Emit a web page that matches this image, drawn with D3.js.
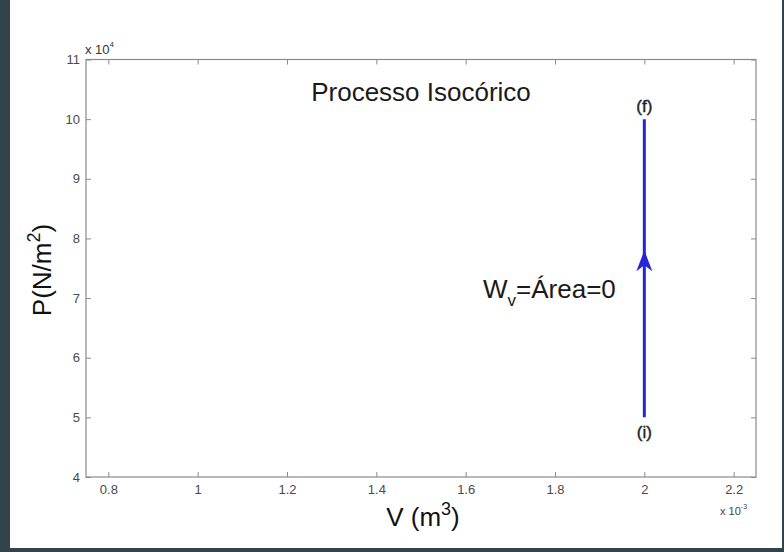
<!DOCTYPE html>
<html>
<head>
<meta charset="utf-8">
<script src="https://cdn.jsdelivr.net/npm/d3@7"></script>
<style>
  body { margin:0; background:#ffffff; }
  svg text { font-family: "Liberation Sans", Arial, sans-serif; }
  .axis path { display:none; }
  .axis line { stroke:#8a8a8a; }
  .axis text { fill:#4a4a4a; font-size:13px; }
</style>
</head>
<body>
<div id="container"></div>
<script>
// Data ---------- ---------- ----------
let xTicks = [0.8, 1, 1.2, 1.4, 1.6, 1.8, 2, 2.2];        // V (x10^-3 m^3)
let yTicks = [4, 5, 6, 7, 8, 9, 10, 11];                 // P (x10^4 N/m^2)
let volume = [2, 2];
let pressure = [5, 10];
let pointLabels = ["(i)", "(f)"];
let arrowAt = 7.8;
let title = "Processo Isocórico";

// Layout ---------- ---------- ----------
let W = 784, H = 552;
let pLeft = 86, pRight = 756, pTop = 59.5, pBottom = 477;
let blue = "#2626d6", dark = "#33434e";

let svg = d3.select("#container").append("svg").attr("width", W).attr("height", H);
svg.append("rect").attr("width", W).attr("height", H).attr("fill", "#fff");
// dark frame of the screenshot
svg.append("rect").attr("x", 0).attr("y", 0).attr("width", 10).attr("height", H).attr("fill", dark);
svg.append("rect").attr("x", 782).attr("y", 0).attr("width", 2).attr("height", H).attr("fill", dark);
svg.append("rect").attr("x", 0).attr("y", 548).attr("width", W).attr("height", 4).attr("fill", dark);

let x = d3.scaleLinear().domain([0.75, 2.25]).range([pLeft, pRight]);
let y = d3.scaleLinear().domain([4, 11]).range([pBottom, pTop]);

// Axes (ticks point inward, mirrored on top/right)
svg.append("g").attr("class", "axis").attr("transform", "translate(0," + pBottom + ")")
  .call(d3.axisBottom(x).tickValues(xTicks).tickSizeInner(-5).tickSizeOuter(0).tickPadding(8).tickFormat(d3.format("~g")));
svg.append("g").attr("class", "axis").attr("transform", "translate(0," + pTop + ")")
  .call(d3.axisTop(x).tickValues(xTicks).tickSizeInner(-5).tickSizeOuter(0).tickFormat(""));
svg.append("g").attr("class", "axis").attr("transform", "translate(" + pLeft + ",0)")
  .call(d3.axisLeft(y).tickValues(yTicks).tickSizeInner(-5).tickSizeOuter(0).tickPadding(6).tickFormat(d3.format("~g")));
svg.append("g").attr("class", "axis").attr("transform", "translate(" + pRight + ",0)")
  .call(d3.axisRight(y).tickValues(yTicks).tickSizeInner(-5).tickSizeOuter(0).tickFormat(""));
svg.append("rect").attr("x", pLeft).attr("y", pTop).attr("width", pRight - pLeft).attr("height", pBottom - pTop)
  .attr("fill", "none").attr("stroke", "#8a8a8a").attr("stroke-width", 1.2);

// Exponent labels
let e1 = svg.append("text").attr("x", pLeft - 1).attr("y", pTop - 6).attr("fill", "#333").attr("font-size", 13);
e1.append("tspan").text("x 10");
e1.append("tspan").attr("dy", -7).attr("font-size", 8).text("4");
let e2 = svg.append("text").attr("x", 720).attr("y", 515).attr("fill", "#444").attr("font-size", 11);
e2.append("tspan").text("x 10");
e2.append("tspan").attr("dy", -6).attr("font-size", 7).text("-3");

// Axis titles
let xl = svg.append("text").attr("x", 423).attr("y", 526).attr("text-anchor", "middle")
  .attr("font-size", 26).attr("fill", "#111");
xl.append("tspan").text("V (m");
xl.append("tspan").attr("dy", -11).attr("font-size", 18).text("3");
xl.append("tspan").attr("dy", 11).text(")");

let yl = svg.append("text").attr("transform", "translate(51,270) rotate(-90)").attr("text-anchor", "middle")
  .attr("font-size", 26).attr("fill", "#111");
yl.append("tspan").text("P(N/m");
yl.append("tspan").attr("dy", -11).attr("font-size", 18).text("2");
yl.append("tspan").attr("dy", 11).text(")");

// Title
svg.append("text").attr("x", 421).attr("y", 101).attr("text-anchor", "middle")
  .attr("font-size", 26).attr("fill", "#1a1a1a").text(title);

// Process line
let line = d3.line().x((d, i) => x(volume[i])).y((d, i) => y(pressure[i]));
svg.append("path").datum(volume).attr("d", line).attr("fill", "none")
  .attr("stroke", blue).attr("stroke-width", 3);

// Arrow head (notched)
let ax = x(volume[0]), ay = y(arrowAt);
svg.append("path")
  .attr("d", "M" + ax + "," + ay + " L" + (ax + 8) + "," + (ay + 21) + " L" + ax + "," + (ay + 15) + " L" + (ax - 8) + "," + (ay + 21) + "Z")
  .attr("fill", blue);

// Point labels
svg.selectAll(".plabel").data(pointLabels).enter().append("text").attr("class", "plabel")
  .attr("x", (d, i) => x(volume[i]))
  .attr("y", (d, i) => i === 0 ? y(pressure[i]) + 21 : y(pressure[i]) - 7)
  .attr("text-anchor", "middle").attr("font-size", 17).attr("fill", "#222").attr("stroke", "#222").attr("stroke-width", 0.4)
  .text(d => d);

// Work annotation
let wt = svg.append("text").attr("x", 483).attr("y", 298).attr("font-size", 26).attr("fill", "#1a1a1a");
wt.append("tspan").text("W");
wt.append("tspan").attr("dy", 8).attr("font-size", 17).text("v");
wt.append("tspan").attr("dy", -8).text("=Área=0");
</script>
</body>
</html>
